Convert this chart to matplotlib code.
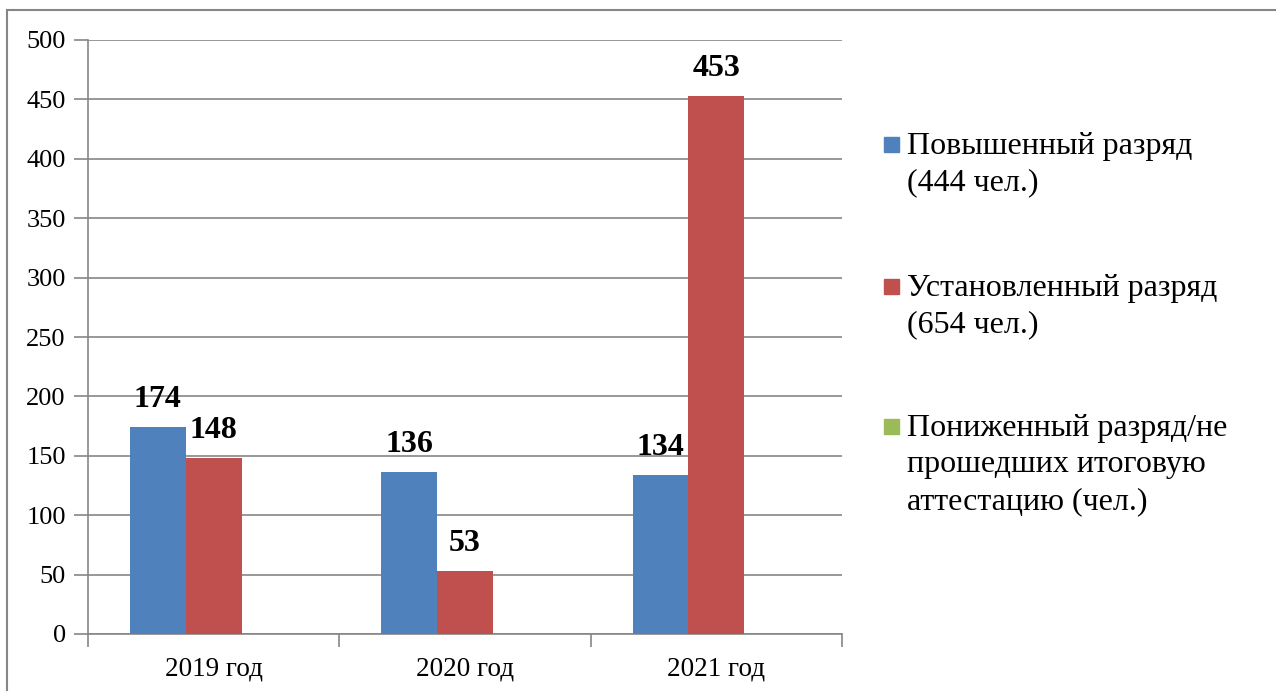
import numpy as np
import matplotlib.pyplot as plt
from matplotlib.patches import Rectangle

plt.rcParams['font.family'] = ['Liberation Serif', 'DejaVu Serif']

# Data
years = ['2019 год', '2020 год', '2021 год']
raised = [174, 136, 134]
set_rank = [148, 53, 453]
lowered = [0, 0, 0]
labels = ['Повышенный разряд\n(444 чел.)',
          'Установленный разряд\n(654 чел.)',
          'Пониженный разряд/не\nпрошедших итоговую\nаттестацию (чел.)']
colors = ['#4F81BD', '#C0504D', '#9BBB59']

W, H = 1276, 691
fig = plt.figure(figsize=(W / 100, H / 100), dpi=100)

# outer chart frame (right/bottom edges fall outside the picture)
fig.add_artist(Rectangle((7 / W, -0.1), 1.2, 1 - 10 / H + 0.1,
                         transform=fig.transFigure, fill=False,
                         edgecolor='#868686', linewidth=1.5))

ax = fig.add_axes([88 / W, 1 - 634 / H, (842 - 88) / W, (634 - 40) / H])

x = np.arange(len(years))
w = 1 / 4.5
series = [raised, set_rank, lowered]
for i, vals in enumerate(series):
    bars = ax.bar(x + (i - 1) * w, vals, width=w, color=colors[i], zorder=3)
    if i < 2:
        for b, v in zip(bars, vals):
            ax.text(b.get_x() + b.get_width() / 2, v + 11, str(v),
                    ha='center', va='bottom', fontsize=23, fontweight='bold')

ax.set_xlim(-0.5, len(years) - 0.5)
ax.set_ylim(0, 500)
ax.set_yticks(np.arange(0, 501, 50))
ax.yaxis.grid(True, color='#868686', linewidth=1.2)
ax.set_axisbelow(True)
ax.set_xticks(np.arange(-0.5, len(years), 1), minor=False)
ax.set_xticklabels([])
ax.set_xticks(x, minor=True)
ax.set_xticklabels(years, minor=True, fontsize=19.5)
ax.tick_params(axis='x', which='minor', length=0, pad=16)
ax.tick_params(axis='x', which='major', length=9, color='#868686', width=1.2)
ax.tick_params(axis='y', length=10, color='#868686', width=1.2, labelsize=19, pad=6)
for s in ['top', 'right']:
    ax.spines[s].set_visible(False)
for s in ['left', 'bottom']:
    ax.spines[s].set_color('#868686')
    ax.spines[s].set_linewidth(1.2)

# legend
leg_y = [137, 279, 419]
for lab, c, yy in zip(labels, colors, leg_y):
    fig.add_artist(Rectangle((884 / W, 1 - (yy + 15) / H), 15 / W, 15 / H,
                             transform=fig.transFigure, color=c))
    fig.text(907 / W, 1 - (yy - 5) / H, lab, fontsize=23, va='top', ha='left',
             linespacing=1.34)

fig.savefig('out.png', dpi=100)
